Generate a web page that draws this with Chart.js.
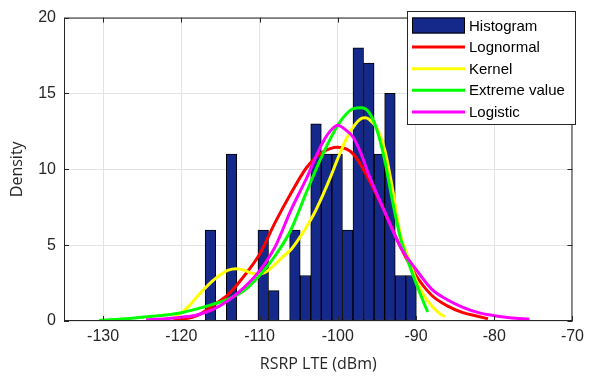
<!DOCTYPE html>
<html>
<head>
<meta charset="utf-8">
<script src="https://cdn.jsdelivr.net/npm/chart.js@4.4.1/dist/chart.umd.min.js"></script>
<style>
  html, body { margin: 0; padding: 0; background: #fff; }
  #wrap { width: 590px; height: 379px; }
</style>
</head>
<body>
<div id="wrap"><canvas id="rsrpChart" width="590" height="379"></canvas></div>
<script>
// histogram bins (centres, dBm) and heights
const binCenters = [-116.28, -114.93, -113.58, -112.23, -110.88, -109.53, -108.18, -106.83, -105.48, -104.13,
                    -102.78, -101.43, -100.08, -98.73, -97.38, -96.03, -94.68, -93.33, -91.98, -90.63];
const histValues = [6, 0, 11, 0, 0, 6, 2, 0, 6, 3, 13, 11, 11, 6, 18, 17, 11, 15, 3, 3];

// fitted curves
const lognormX = [-121, -120, -118, -116, -114, -112, -110, -108, -106, -104, -102, -100, -98, -96, -94, -92, -90, -88, -86, -84, -82, -80.8];
const lognormY = [0.05, 0.1, 0.35, 1.0, 1.75, 2.95, 4.4, 6.5, 8.4, 10.1, 11.1, 11.45, 11.0, 9.3, 7.2, 4.9, 3.0, 1.7, 1.0, 0.55, 0.3, 0.15];

const kernelX = [-121, -120, -119, -118, -117, -116, -115, -114, -113, -112, -111, -110, -109, -108, -107, -106, -105, -104, -103, -102,
                 -101, -100, -99, -98, -97, -96.5, -96, -95, -94, -93, -92, -91, -90, -89, -88, -87, -86.3];
const kernelY = [0.2, 0.55, 1.0, 1.6, 2.15, 2.65, 3.05, 3.35, 3.45, 3.35, 3.15, 3.1, 3.3, 3.75, 4.25, 4.7, 5.4, 6.2, 7.1, 8.2,
                 9.4, 10.7, 11.9, 12.8, 13.35, 13.4, 13.3, 12.7, 11.3, 8.7, 5.7, 4.2, 2.7, 1.7, 1.0, 0.5, 0.28];

const extremeX = [-130.5, -128, -126, -124, -122, -120, -118, -116, -114, -112, -110, -108, -106, -104, -102, -100, -99, -98, -97, -96,
                  -95, -94, -93, -92, -91, -90, -89, -88.5];
const extremeY = [0.05, 0.12, 0.2, 0.3, 0.4, 0.55, 0.8, 1.1, 1.45, 2.0, 3.0, 4.3, 6.0, 8.5, 10.9, 12.9, 13.6, 14.0, 14.05, 13.75,
                  12.6, 10.6, 7.9, 5.5, 3.9, 2.5, 1.2, 0.6];

const logisticX = [-124.5, -122, -120, -118, -116, -114, -112, -110, -108, -106, -104, -102, -101, -100, -99, -98, -97, -96, -94, -92,
                   -90, -88, -86, -84, -82, -80, -78, -75.5];
const logisticY = [0.08, 0.15, 0.25, 0.4, 0.75, 1.35, 2.2, 3.3, 4.9, 7.3, 9.4, 11.7, 12.5, 12.9, 12.6, 12.1, 11.0, 9.6, 7.2, 4.9,
                   3.4, 2.1, 1.4, 0.9, 0.55, 0.35, 0.22, 0.12];

const xTicks = [-130, -120, -110, -100, -90, -80, -70];
const yTicks = [0, 5, 10, 15, 20];

const toPoints = (xs, ys) => xs.map((x, i) => ({ x: x, y: ys[i] }));

function curve(label, color, xs, ys, order) {
    return {
        type: 'line',
        label: label,
        data: toPoints(xs, ys),
        borderColor: color,
        backgroundColor: color,
        borderWidth: 3,
        pointRadius: 0,
        fill: false,
        cubicInterpolationMode: 'monotone',
        order: order
    };
}

// axes box, inward tick marks and the legend box
const framePlugin = {
    id: 'frame',
    afterDraw(chart) {
        const { ctx, chartArea: a, scales } = chart;
        ctx.save();
        ctx.strokeStyle = '#262626';
        ctx.lineWidth = 1;
        ctx.strokeRect(a.left + 0.5, a.top + 0.5, a.width - 1, a.height - 1);
        ctx.beginPath();
        xTicks.forEach(v => {
            const px = Math.round(scales.x.getPixelForValue(v)) + 0.5;
            ctx.moveTo(px, a.bottom); ctx.lineTo(px, a.bottom - 5);
            ctx.moveTo(px, a.top); ctx.lineTo(px, a.top + 5);
        });
        yTicks.forEach(v => {
            const py = Math.round(scales.y.getPixelForValue(v)) + 0.5;
            ctx.moveTo(a.left, py); ctx.lineTo(a.left + 5, py);
            ctx.moveTo(a.right, py); ctx.lineTo(a.right - 5, py);
        });
        ctx.stroke();

        // legend
        const bx = 407, by = 11, bw = 168, bh = 113;
        ctx.fillStyle = '#ffffff';
        ctx.fillRect(bx, by, bw, bh);
        ctx.strokeStyle = '#262626';
        ctx.strokeRect(bx + 0.5, by + 0.5, bw, bh);
        ctx.font = '15px "Liberation Sans", Arial, sans-serif';
        ctx.textBaseline = 'middle';
        chart.data.datasets.forEach((ds, i) => {
            const cy = 25.5 + i * 21.6;
            if (ds.type === 'line') {
                ctx.strokeStyle = ds.borderColor;
                ctx.lineWidth = 3;
                ctx.beginPath();
                ctx.moveTo(412, cy); ctx.lineTo(465, cy);
                ctx.stroke();
            } else {
                ctx.fillStyle = ds.backgroundColor;
                ctx.fillRect(412, cy - 8, 53, 16);
                ctx.strokeStyle = '#000';
                ctx.lineWidth = 1;
                ctx.strokeRect(412.5, cy - 7.5, 52, 15);
            }
            ctx.fillStyle = '#000';
            ctx.fillText(ds.label, 469, cy + 1);
        });
        ctx.restore();
    }
};

const ctx = document.getElementById('rsrpChart').getContext('2d');
const rsrpChart = new Chart(ctx, {
    type: 'bar',
    data: {
        datasets: [
            {
                type: 'bar',
                label: 'Histogram',
                data: toPoints(binCenters, histValues),
                backgroundColor: '#15298a',
                borderColor: '#000000',
                borderWidth: 1,
                borderSkipped: false,
                barPercentage: 1.0,
                categoryPercentage: 1.0,
                order: 10
            },
            curve('Lognormal', '#ff0000', lognormX, lognormY, 4),
            curve('Kernel', '#ffff00', kernelX, kernelY, 3),
            curve('Extreme value', '#00ff00', extremeX, extremeY, 2),
            curve('Logistic', '#ff00ff', logisticX, logisticY, 1)
        ]
    },
    options: {
        responsive: false,
        animation: false,
        layout: { padding: { top: 12, right: 15, left: 0, bottom: 0 } },
        plugins: {
            legend: { display: false },
            tooltip: { enabled: false }
        },
        scales: {
            x: {
                type: 'linear',
                min: -135,
                max: -70,
                offset: false,
                afterBuildTicks: scale => { scale.ticks = xTicks.map(v => ({ value: v })); },
                afterFit: scale => { scale.height = 58; },
                grid: { color: '#e3e3e3', drawTicks: false, offset: false },
                border: { display: false },
                ticks: {
                    padding: 6,
                    color: '#262626',
                    font: { family: '"Liberation Sans", Arial, sans-serif', size: 16 },
                    callback: v => String(v)
                },
                title: {
                    display: true,
                    text: 'RSRP LTE (dBm)',
                    color: '#262626',
                    font: { family: '"Open Sans", sans-serif', size: 16 },
                    padding: { top: 0, bottom: 5 }
                }
            },
            y: {
                min: 0,
                max: 20,
                afterBuildTicks: scale => { scale.ticks = yTicks.map(v => ({ value: v })); },
                afterFit: scale => { scale.width = 64; },
                grid: { color: '#e3e3e3', drawTicks: false },
                border: { display: false },
                ticks: {
                    padding: 8,
                    color: '#262626',
                    font: { family: '"Liberation Sans", Arial, sans-serif', size: 16 }
                },
                title: {
                    display: true,
                    text: 'Density',
                    color: '#262626',
                    font: { family: '"Open Sans", sans-serif', size: 16 },
                    padding: { top: 8, bottom: 0 }
                }
            }
        }
    },
    plugins: [framePlugin]
});
</script>
</body>
</html>
